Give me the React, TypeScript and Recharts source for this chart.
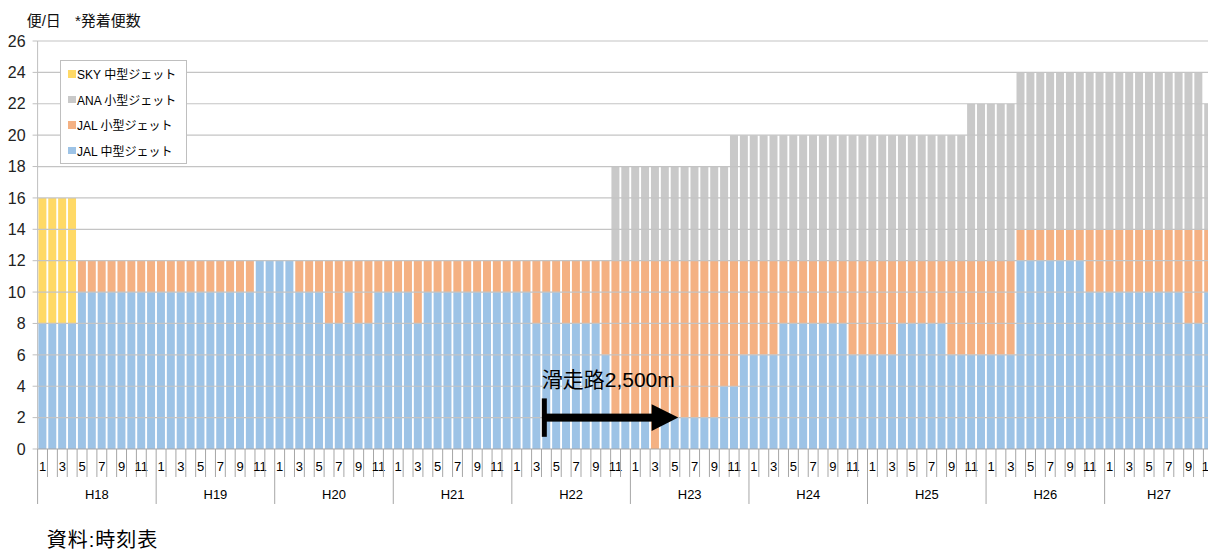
import React from "react";
import { BarChart, Bar, XAxis, YAxis, ReferenceLine, Legend } from "recharts";

const FONT = "'Liberation Sans', Arial, 'Noto Sans CJK JP', sans-serif";

const years = ["H18", "H19", "H20", "H21", "H22", "H23", "H24", "H25", "H26", "H27"];
const months = [1, 2, 3, 4, 5, 6, 7, 8, 9, 10, 11, 12];

// 発着便数（便/日）, one row per year, Jan..Dec (H27 runs to Nov)
const jalMid = [
  8, 8, 8, 8, 10, 10, 10, 10, 10, 10, 10, 10, // H18
  10, 10, 10, 10, 10, 10, 10, 10, 10, 10, 12, 12, // H19
  12, 12, 10, 10, 10, 8, 8, 10, 8, 8, 10, 10, // H20
  10, 10, 8, 10, 10, 10, 10, 10, 10, 10, 10, 10, // H21
  10, 10, 8, 10, 10, 8, 8, 8, 8, 6, 2, 2, // H22
  2, 2, 0, 2, 2, 2, 2, 2, 2, 4, 4, 6, // H23
  6, 6, 6, 8, 8, 8, 8, 8, 8, 8, 6, 6, // H24
  6, 6, 6, 8, 8, 8, 8, 8, 6, 6, 6, 6, // H25
  6, 6, 6, 12, 12, 12, 12, 12, 12, 12, 10, 10, // H26
  10, 10, 10, 10, 10, 10, 10, 10, 8, 8, 10, // H27
];

const jalSmall = [
  0, 0, 0, 0, 2, 2, 2, 2, 2, 2, 2, 2,
  2, 2, 2, 2, 2, 2, 2, 2, 2, 2, 0, 0,
  0, 0, 2, 2, 2, 4, 4, 2, 4, 4, 2, 2,
  2, 2, 4, 2, 2, 2, 2, 2, 2, 2, 2, 2,
  2, 2, 4, 2, 2, 4, 4, 4, 4, 6, 10, 10,
  10, 10, 12, 10, 10, 10, 10, 10, 10, 8, 8, 6,
  6, 6, 6, 4, 4, 4, 4, 4, 4, 4, 6, 6,
  6, 6, 6, 4, 4, 4, 4, 4, 6, 6, 6, 6,
  6, 6, 6, 2, 2, 2, 2, 2, 2, 2, 4, 4,
  4, 4, 4, 4, 4, 4, 4, 4, 6, 6, 4,
];

const anaSmall = [
  0, 0, 0, 0, 0, 0, 0, 0, 0, 0, 0, 0,
  0, 0, 0, 0, 0, 0, 0, 0, 0, 0, 0, 0,
  0, 0, 0, 0, 0, 0, 0, 0, 0, 0, 0, 0,
  0, 0, 0, 0, 0, 0, 0, 0, 0, 0, 0, 0,
  0, 0, 0, 0, 0, 0, 0, 0, 0, 0, 6, 6,
  6, 6, 6, 6, 6, 6, 6, 6, 6, 6, 8, 8,
  8, 8, 8, 8, 8, 8, 8, 8, 8, 8, 8, 8,
  8, 8, 8, 8, 8, 8, 8, 8, 8, 8, 10, 10,
  10, 10, 10, 10, 10, 10, 10, 10, 10, 10, 10, 10,
  10, 10, 10, 10, 10, 10, 10, 10, 10, 10, 8,
];

const skyMid = [
  8, 8, 8, 8, 0, 0, 0, 0, 0, 0, 0, 0,
  0, 0, 0, 0, 0, 0, 0, 0, 0, 0, 0, 0,
  0, 0, 0, 0, 0, 0, 0, 0, 0, 0, 0, 0,
  0, 0, 0, 0, 0, 0, 0, 0, 0, 0, 0, 0,
  0, 0, 0, 0, 0, 0, 0, 0, 0, 0, 0, 0,
  0, 0, 0, 0, 0, 0, 0, 0, 0, 0, 0, 0,
  0, 0, 0, 0, 0, 0, 0, 0, 0, 0, 0, 0,
  0, 0, 0, 0, 0, 0, 0, 0, 0, 0, 0, 0,
  0, 0, 0, 0, 0, 0, 0, 0, 0, 0, 0, 0,
  0, 0, 0, 0, 0, 0, 0, 0, 0, 0, 0,
];

const yTicks = [0, 2, 4, 6, 8, 10, 12, 14, 16, 18, 20, 22, 24, 26];

const series = [
  { key: "jalMid", name: "JAL 中型ジェット", color: "#9DC3E6" },
  { key: "jalSmall", name: "JAL 小型ジェット", color: "#F4B183" },
  { key: "anaSmall", name: "ANA 小型ジェット", color: "#C9C9C9" },
  { key: "skyMid", name: "SKY 中型ジェット", color: "#FFD966" },
];

const rows = years
  .flatMap((year) => months.map((m) => ({ year, m })))
  .slice(0, jalMid.length)
  .map(({ year, m }, i) => ({
    key: `${year}-${m}`,
    jalMid: jalMid[i],
    jalSmall: jalSmall[i],
    anaSmall: anaSmall[i],
    skyMid: skyMid[i],
  }));

const monthsInYear: Record<string, number> = {};
rows.forEach((r) => {
  const y = r.key.split("-")[0];
  monthsInYear[y] = (monthsInYear[y] || 0) + 1;
});

const BAND = 9.88;
const Y_AXIS_W = 37.6;
const MARGIN = { top: 41, right: 4, left: 0, bottom: 43 };
const CHART_W = Y_AXIS_W + BAND * rows.length + MARGIN.right;
const CHART_H = 552;

// two-level category axis: month numbers over the year groups
function CategoryTick(props: any) {
  const { x, y, payload } = props;
  const [year, m] = String(payload.value).split("-");
  const month = Number(m);
  const left = x - BAND / 2;
  const n = monthsInYear[year];
  const labelMonth = Math.floor((n - 1) / 2) + 1;
  const labelX = n % 2 === 0 ? x + BAND / 2 : x;
  return (
    <g>
      <line x1={left} x2={left} y1={y} y2={y + (month === 1 ? 55 : 28)} stroke="#A6A6A6" />
      {month % 2 === 1 && (
        <text x={x} y={y + 22} textAnchor="middle" fontSize={13} fill="#000" fontFamily={FONT}>
          {month}
        </text>
      )}
      {month === labelMonth && (
        <text x={labelX} y={y + 50} textAnchor="middle" fontSize={13} fill="#000" fontFamily={FONT}>
          {year}
        </text>
      )}
    </g>
  );
}

function RunwayArrow(props: any) {
  const { x1, y1, x2 } = props;
  const post = x1 - 2.1;
  const tip = x2 + 3.4;
  const headBase = tip - 26.6;
  return (
    <g>
      <text x={x1 - 4.6} y={y1 - 30.6} fontSize={21} fill="#000" fontFamily={FONT}>
        滑走路2,500m
      </text>
      <rect x={post - 2.5} y={y1 - 19.2} width={5} height={38.4} fill="#000" />
      <rect x={post} y={y1 - 4} width={headBase - post + 1} height={8} fill="#000" />
      <polygon
        points={`${headBase},${y1 - 13.3} ${tip},${y1} ${headBase},${y1 + 13.3}`}
        fill="#000"
      />
    </g>
  );
}

function SeriesKey() {
  const items = [...series].reverse();
  return (
    <div
      style={{
        width: 127,
        height: 104,
        boxSizing: "border-box",
        border: "1px solid #BFBFBF",
        background: "#fff",
        fontFamily: FONT,
        fontSize: 12,
        color: "#000",
      }}
    >
      {items.map((s) => (
        <div
          key={s.key}
          style={{ height: 25.5, display: "flex", alignItems: "center", paddingLeft: 7 }}
        >
          <span
            style={{ width: 7.5, height: 7.5, background: s.color, marginRight: 1.5, display: "inline-block" }}
          />
          <span style={{ whiteSpace: "nowrap" }}>{s.name}</span>
        </div>
      ))}
    </div>
  );
}

export default function App() {
  return (
    <div
      style={{
        position: "fixed",
        left: 0,
        top: 0,
        width: 1208,
        height: 552,
        overflow: "hidden",
        background: "#fff",
        fontFamily: FONT,
      }}
    >
      <div style={{ position: "absolute", left: 26.7, top: 9, fontSize: 15, color: "#111", whiteSpace: "nowrap" }}>
        便/日
      </div>
      <div style={{ position: "absolute", left: 75, top: 9, fontSize: 15, color: "#111", whiteSpace: "nowrap" }}>
        *発着便数
      </div>

      <BarChart width={CHART_W} height={CHART_H} data={rows} margin={MARGIN} barCategoryGap="8%">
        <XAxis
          dataKey="key"
          interval={0}
          height={60}
          tickLine={false}
          tickSize={0}
          tickMargin={0}
          axisLine={{ stroke: "#A6A6A6" }}
          tick={CategoryTick}
        />
        <YAxis
          width={Y_AXIS_W}
          domain={[0, 26]}
          ticks={yTicks}
          interval={0}
          tickSize={5}
          tickMargin={7}
          axisLine={{ stroke: "#BFBFBF" }}
          tickLine={{ stroke: "#BFBFBF" }}
          tick={{ fontSize: 16, fill: "#222", fontFamily: FONT }}
        />
        {series.map((s) => (
          <Bar
            key={s.key}
            dataKey={s.key}
            name={s.name}
            stackId="flights"
            fill={s.color}
            isAnimationActive={false}
          />
        ))}
        {yTicks.slice(1).map((v) => (
          <ReferenceLine key={v} y={v} stroke="#C4C4C4" strokeWidth={1.2} />
        ))}
        <ReferenceLine
          segment={[
            { x: "H22-4", y: 2 },
            { x: "H23-5", y: 2 },
          ]}
          shape={RunwayArrow}
        />
        <Legend
          layout="vertical"
          align="center"
          verticalAlign="middle"
          wrapperStyle={{ left: 60, top: 60, width: 127, height: 104 }}
          content={() => <SeriesKey />}
        />
      </BarChart>

      <div
        style={{
          position: "absolute",
          left: 46.7,
          top: 530,
          fontSize: 20,
          lineHeight: "20px",
          letterSpacing: 1,
          color: "#000",
          whiteSpace: "nowrap",
        }}
      >
        資料:時刻表
      </div>
    </div>
  );
}
